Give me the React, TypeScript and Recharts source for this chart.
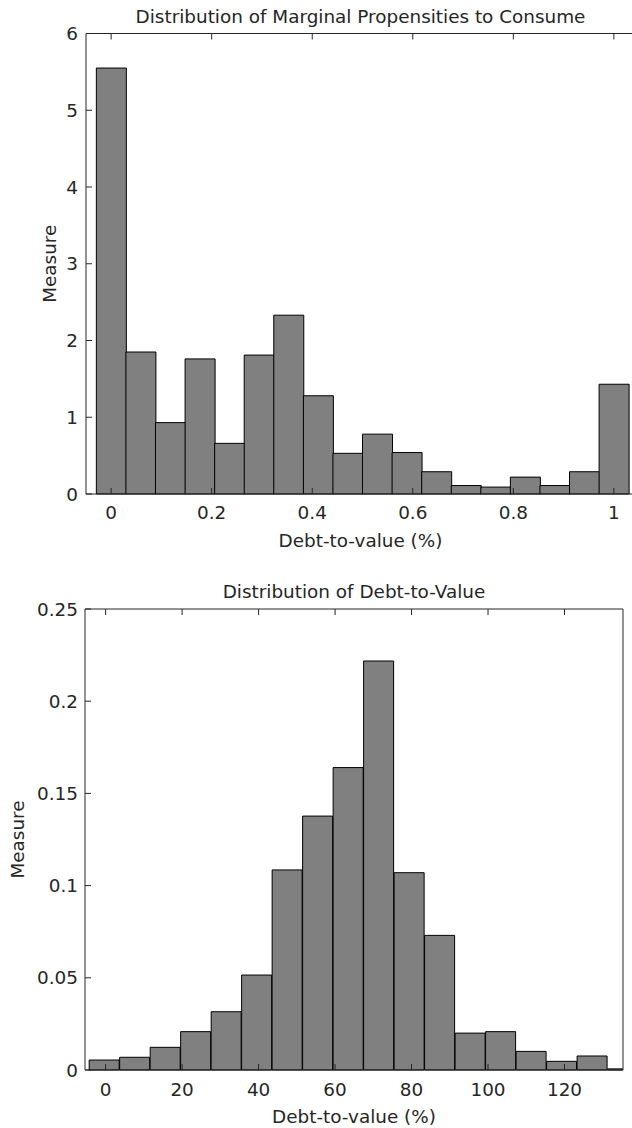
import React from "react";
import { Bar, ComposedChart, Label, XAxis, YAxis } from "recharts";

// top panel: marginal propensities to consume
const mpcBins = [
  0, 0.0588, 0.1176, 0.1765, 0.2353, 0.2941, 0.3529, 0.4118, 0.4706, 0.5294,
  0.5882, 0.6471, 0.7059, 0.7647, 0.8235, 0.8824, 0.9412, 1,
];
const mpcMeasure = [
  5.55, 1.85, 0.93, 1.76, 0.66, 1.81, 2.33, 1.28, 0.53, 0.78, 0.54, 0.29,
  0.11, 0.09, 0.22, 0.11, 0.29, 1.43,
];
const mpcXTicks = [0, 0.2, 0.4, 0.6, 0.8, 1];
const mpcYTicks = [0, 1, 2, 3, 4, 5, 6];

// bottom panel: debt-to-value
const dtvBins = [
  -0.32, 7.65, 15.63, 23.6, 31.58, 39.55, 47.53, 55.5, 63.48, 71.45, 79.43,
  87.4, 95.38, 103.35, 111.33, 119.3, 127.28, 135.25,
];
const dtvMeasure = [
  0.0054, 0.0069, 0.0123, 0.0208, 0.0316, 0.0515, 0.1085, 0.1377, 0.164,
  0.2218, 0.107, 0.073, 0.02, 0.0208, 0.0101, 0.0047, 0.0076, 0.0006,
];
const dtvXTicks = [0, 20, 40, 60, 80, 100, 120];
const dtvYTicks = [0, 0.05, 0.1, 0.15, 0.2, 0.25];

const FONT = "'DejaVu Sans', sans-serif";
const INK = "#262626";
const FS = 18.4;

const tickStyle = { fill: INK, fontSize: FS, fontFamily: FONT };
const tickLine = { stroke: INK, strokeWidth: 1 };
const noLabel = () => <g />;

// horizontal text centred on the axis box
const hText =
  (value: string, dy: number) =>
  ({ viewBox }: any) => {
    const cx = viewBox.x + viewBox.width / 2;
    return (
      <text x={cx} y={viewBox.y + dy} textAnchor="middle" fill={INK} fontSize={FS} fontFamily={FONT}>
        {value}
      </text>
    );
  };

// rotated y title
const vText =
  (value: string, dx: number) =>
  ({ viewBox }: any) => {
    const cx = viewBox.x + dx;
    const cy = viewBox.y + viewBox.height / 2;
    return (
      <text
        x={cx}
        y={cy + 0.36 * FS}
        transform={`rotate(-90, ${cx}, ${cy})`}
        textAnchor="middle"
        fill={INK}
        fontSize={FS}
        fontFamily={FONT}
      >
        {value}
      </text>
    );
  };

interface HistProps {
  bins: number[];
  values: number[];
  xTicks: number[];
  yTicks: number[];
  xDomain: [number, number];
  title: string;
  width: number;
  height: number;
  marginTop: number;
  topH: number;
  bottomH: number;
  leftW: number;
  rightW: number;
  yLabelX: number;
  yTickMargin: number;
  xTickMargin: number;
}

function Histogram(p: HistProps) {
  const data = p.bins.map((x, i) => ({ x, v: p.values[i] }));
  const yDomain: [number, number] = [p.yTicks[0], p.yTicks[p.yTicks.length - 1]];
  return (
    <ComposedChart
      width={p.width}
      height={p.height}
      data={data}
      margin={{ top: p.marginTop, right: 0, bottom: 0, left: 0 }}
      barCategoryGap={0}
      barGap={0}
    >
      <XAxis
        dataKey="x"
        type="number"
        domain={p.xDomain}
        allowDataOverflow
        ticks={p.xTicks}
        interval={0}
        height={p.bottomH}
        tickSize={-6}
        tickLine={tickLine}
        tickMargin={p.xTickMargin}
        tick={tickStyle}
        stroke={INK}
      >
        <Label content={hText("Debt-to-value (%)", 52.5)} />
      </XAxis>
      <XAxis
        xAxisId="top"
        orientation="top"
        dataKey="x"
        type="number"
        domain={p.xDomain}
        allowDataOverflow
        ticks={p.xTicks}
        interval={0}
        height={p.topH}
        tickSize={-6}
        tickLine={tickLine}
        tick={noLabel}
        stroke={INK}
      >
        <Label content={hText(p.title, p.topH / 2 + 0.36 * FS)} />
      </XAxis>
      <YAxis
        type="number"
        domain={yDomain}
        ticks={p.yTicks}
        interval={0}
        width={p.leftW}
        tickSize={-6}
        tickLine={tickLine}
        tickMargin={p.yTickMargin}
        tick={tickStyle}
        stroke={INK}
      >
        <Label content={vText("Measure", p.yLabelX)} />
      </YAxis>
      <YAxis
        yAxisId="right"
        orientation="right"
        type="number"
        domain={yDomain}
        ticks={p.yTicks}
        interval={0}
        width={p.rightW}
        tickSize={-6}
        tickLine={tickLine}
        tick={noLabel}
        stroke={INK}
      />
      <Bar
        dataKey="v"
        fill="#808080"
        stroke="#000000"
        strokeWidth={1}
        isAnimationActive={false}
      />
    </ComposedChart>
  );
}

export default function App() {
  return (
    <div
      style={{
        position: "absolute",
        left: 0,
        top: 0,
        width: 632,
        height: 1128,
        overflow: "hidden",
        background: "#ffffff",
      }}
    >
      <div style={{ position: "absolute", left: 0, top: 0 }}>
        <Histogram
          bins={mpcBins}
          values={mpcMeasure}
          xTicks={mpcXTicks}
          yTicks={mpcYTicks}
          xDomain={[-0.05, 1.042]}
          title="Distribution of Marginal Propensities to Consume"
          width={641}
          height={590}
          marginTop={0}
          topH={33.5}
          bottomH={96}
          leftW={86}
          rightW={6}
          yLabelX={49}
          yTickMargin={14}
          xTickMargin={18}
        />
      </div>
      <div style={{ position: "absolute", left: 0, top: 560 }}>
        <Histogram
          bins={dtvBins}
          values={dtvMeasure}
          xTicks={dtvXTicks}
          yTicks={dtvYTicks}
          xDomain={[-5.4, 135.3]}
          title="Distribution of Debt-to-Value"
          width={632}
          height={568}
          marginTop={14}
          topH={35}
          bottomH={58}
          leftW={85}
          rightW={9}
          yLabelX={17}
          yTickMargin={13}
          xTickMargin={19}
        />
      </div>
    </div>
  );
}
